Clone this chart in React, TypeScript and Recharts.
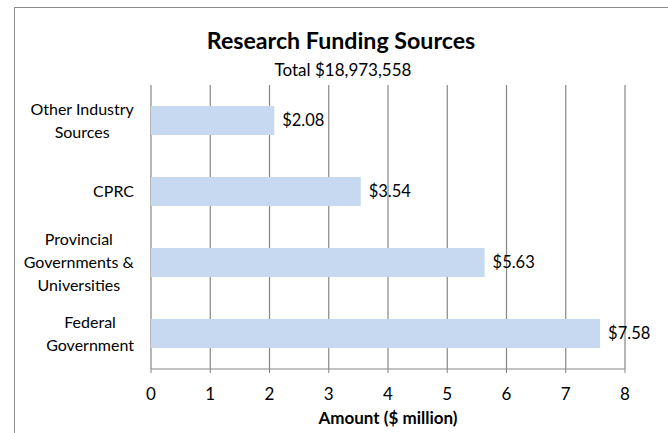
import React from 'react';
import { BarChart, Bar, XAxis, YAxis, CartesianGrid, LabelList, Label } from 'recharts';

const categories = [
  'Other Industry\nSources',
  'CPRC',
  'Provincial\nGovernments &\nUniversities',
  'Federal\nGovernment',
];
const amounts = [2.08, 3.54, 5.63, 7.58];
const xTicks = [0, 1, 2, 3, 4, 5, 6, 7, 8];
const chartTitle = 'Research Funding Sources';
const chartSubtitle = 'Total $18,973,558';
const xAxisTitle = 'Amount ($ million)';

const data = categories.map((name, i) => ({ name, value: amounts[i] }));
const bandEdges = Array.from({ length: categories.length + 1 }, (_, i) => i);

const FONT = 'Lato, Carlito, Calibri, sans-serif';
const GRID = '#868686';

let ctx: CanvasRenderingContext2D | null = null;
function measure(text: string, font: string): number {
  if (!ctx) ctx = document.createElement('canvas').getContext('2d');
  if (!ctx) return text.length * 8;
  ctx.font = font;
  return ctx.measureText(text).width;
}

const CategoryTick = (props: any) => {
  const { x, y, payload } = props;
  const lines = String(payload.value).split('\n');
  const w = Math.max(...lines.map((l) => measure(l, '16px Lato')));
  const cx = x - w / 2;
  const lh = 23;
  const startY = y - ((lines.length - 1) * lh) / 2;
  return (
    <text x={cx} y={startY} textAnchor="middle" fontFamily={FONT} fontSize={16} fill="#000">
      {lines.map((l, i) => (
        <tspan key={i} x={cx} y={startY + i * lh} dy="0.35em">
          {l}
        </tspan>
      ))}
    </text>
  );
};

export default function App() {
  return (
    <div
      style={{
        position: 'absolute',
        left: 0,
        top: 0,
        width: 668,
        height: 433,
        background: '#fff',
        fontFamily: FONT,
        overflow: 'hidden',
      }}
    >
      <div
        style={{
          position: 'absolute',
          left: 14,
          top: 7,
          right: -2,
          bottom: -2,
          borderTop: '1.5px solid #8c8c8c',
          borderLeft: '1.5px solid #8c8c8c',
        }}
      />
      <div
        style={{
          position: 'absolute',
          left: 41,
          width: 600,
          top: 25,
          textAlign: 'center',
          fontWeight: 700,
          fontSize: 23.2,
          color: '#000',
          lineHeight: '30px',
        }}
      >
        {chartTitle}
      </div>
      <div
        style={{
          position: 'absolute',
          left: 43,
          width: 600,
          top: 59,
          textAlign: 'center',
          fontSize: 17,
          color: '#000',
          lineHeight: '22px',
        }}
      >
        {chartSubtitle}
      </div>
      <div style={{ position: 'absolute', left: 0, top: 0 }}>
        <BarChart
          width={668}
          height={433}
          data={data}
          layout="vertical"
          margin={{ top: 85, right: 43, left: 0, bottom: 0 }}
        >
          <CartesianGrid horizontal={false} vertical={true} stroke={GRID} strokeWidth={1.2} />
          <XAxis
            type="number"
            domain={[0, 8]}
            ticks={xTicks}
            interval={0}
            height={64}
            tickSize={4}
            tickMargin={15}
            stroke={GRID}
            tick={{ fill: '#000', fontSize: 17, fontFamily: FONT }}
          >
            <Label
              value={xAxisTitle}
              position="insideBottom"
              offset={9}
              style={{ fill: '#000', fontWeight: 700, fontSize: 17, fontFamily: FONT }}
            />
          </XAxis>
          <YAxis
            yAxisId="edges"
            type="number"
            domain={[0, categories.length]}
            ticks={bandEdges}
            interval={0}
            width={0}
            tickSize={5}
            tick={false}
            stroke={GRID}
          />
          <YAxis
            yAxisId="cat"
            type="category"
            dataKey="name"
            width={151}
            tickLine={false}
            axisLine={false}
            tickSize={0}
            tickMargin={17}
            interval={0}
            tick={<CategoryTick />}
          />
          <Bar yAxisId="cat" dataKey="value" fill="#C6D9F1" barSize={29} isAnimationActive={false}>
            <LabelList
              dataKey="value"
              position="right"
              offset={8}
              formatter={(v: any) => `$${Number(v).toFixed(2)}`}
              style={{ fill: '#000', fontSize: 16.5, fontFamily: FONT }}
            />
          </Bar>
        </BarChart>
      </div>
    </div>
  );
}
